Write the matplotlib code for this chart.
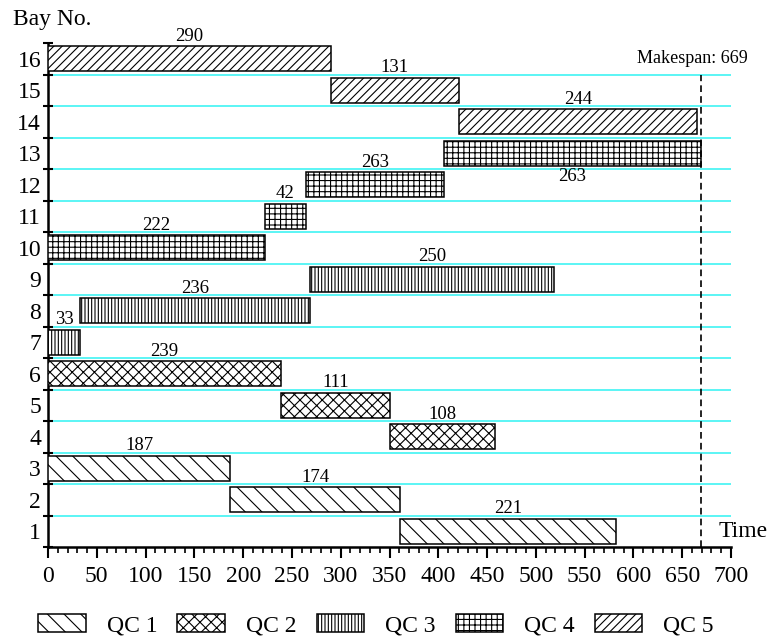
import matplotlib
matplotlib.use("Agg")
import matplotlib.pyplot as plt
from matplotlib.patches import Patch
import numpy as np

# schedule: bay, start time, finish time, crane, label
bays = [16, 15, 14, 13, 12, 11, 10, 9, 8, 7, 6, 5, 4, 3, 2, 1]
starts = [0, 290, 421, 406, 264, 222, 0, 269, 33, 0, 0, 239, 350, 0, 187, 361]
ends = [290, 421, 665, 669, 406, 264, 222, 519, 269, 33, 239, 350, 458, 187, 361, 582]
cranes = [5, 5, 5, 4, 4, 4, 4, 3, 3, 3, 2, 2, 2, 1, 1, 1]
labels = ["290", "131", "244", "263", "263", "42", "222", "250", "236", "33",
          "239", "111", "108", "187", "174", "221"]
label_below = [13]  # bays whose label sits under the bar

qc_names = ["QC 1", "QC 2", "QC 3", "QC 4", "QC 5"]
qc_hatch = {1: "\\\\", 2: "xxx", 3: "|||||", 4: "+++", 5: "////"}
makespan = 669

plt.rcParams["font.family"] = ["Liberation Serif", "DejaVu Serif"]
plt.rcParams["hatch.linewidth"] = 0.8

fig = plt.figure(figsize=(7.73, 6.43), dpi=100)
ax = fig.add_axes([48 / 773, 96 / 643, (731 - 48) / 773, (547 - 43) / 643])

bar_h = 0.78
for b, s, e, q, lab in zip(bays, starts, ends, cranes, labels):
    ax.barh(b, e - s, left=s, height=bar_h, color="white", edgecolor="black",
            linewidth=1.1, hatch=qc_hatch[q], zorder=3)
    if b in label_below:
        ax.text((s + e) / 2, b - bar_h / 2 - 0.08, lab, ha="center", va="top",
                fontsize=13.5)
    else:
        ax.text((s + e) / 2, b + bar_h / 2 + 0.06, lab, ha="center", va="bottom",
                fontsize=13.5)

# row separators
for yb in np.arange(1.5, 16, 1.0):
    ax.axhline(yb, color="#3ff4f4", linewidth=1.2, zorder=1)

# makespan marker
ax.plot([makespan, makespan], [0.5, 15.5], color="black", linestyle=(0, (4, 2.5)),
        linewidth=1.2, zorder=4)
ax.text(660, 16.0, "Makespan: %d" % makespan, ha="center", va="center", fontsize=13)

ax.set_xlim(0, 700)
ax.set_ylim(0.5, 16.5)

ax.set_xticks(np.arange(0, 701, 50))
ax.set_xticks(np.arange(0, 701, 10), minor=True)
ax.tick_params(axis="x", which="major", direction="out", length=8, width=1.5,
               labelsize=17, pad=6)
ax.tick_params(axis="x", which="minor", direction="out", length=4.5, width=1.2)

ax.set_yticks(np.arange(0.5, 16.6, 1.0))
ax.set_yticklabels([])
ax.set_yticks(np.arange(1, 17), minor=True)
ax.set_yticklabels([str(i) for i in range(1, 17)], minor=True)
ax.tick_params(axis="y", which="major", direction="inout", length=7, width=1.5)
ax.tick_params(axis="y", which="minor", length=0, labelsize=17, pad=5)

for side in ["top", "right"]:
    ax.spines[side].set_visible(False)
for side in ["left", "bottom"]:
    ax.spines[side].set_linewidth(1.8)

fig.text(13 / 773, 1 - 20 / 643, "Bay No.", ha="left", va="center", fontsize=17)
ax.text(687, 1.0, "Time", ha="left", va="center", fontsize=17)

handles = [Patch(facecolor="white", edgecolor="black", linewidth=1.1,
                 hatch=qc_hatch[i + 1], label=qc_names[i]) for i in range(5)]
fig.legend(handles=handles, loc="center", bbox_to_anchor=(376 / 773, 1 - 625 / 643),
           ncol=5, frameon=False, fontsize=17, handlelength=2.0, handleheight=0.8,
           handletextpad=0.9, columnspacing=0.85)

fig.savefig("out.png", dpi=100)
